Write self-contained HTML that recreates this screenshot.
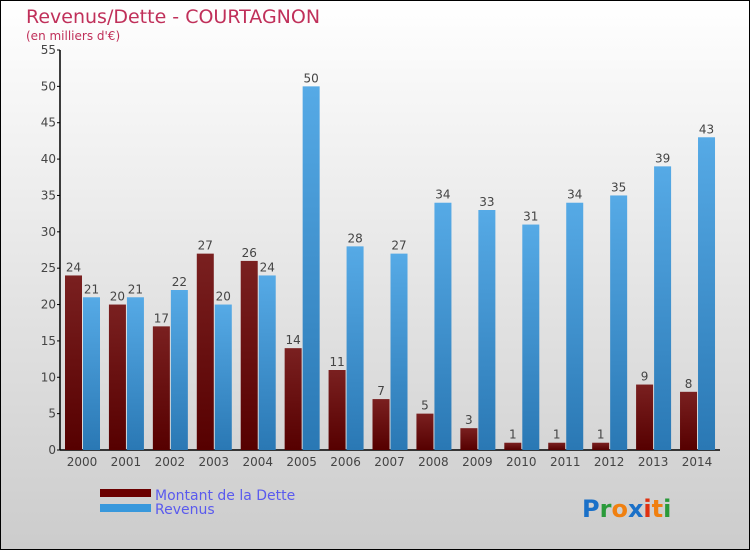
<!DOCTYPE html>
<html><head><meta charset="utf-8"><style>
body{margin:0}
svg{display:block;font-family:"DejaVu Sans","Liberation Sans",sans-serif}
</style></head><body>
<svg id="chart" width="750" height="550" viewBox="0 0 750 550">
<defs>
<linearGradient id="bg" x1="0" y1="0" x2="0" y2="1"><stop offset="0" stop-color="#ffffff"/><stop offset="1" stop-color="#cccccc"/></linearGradient>
<linearGradient id="gd" x1="0" y1="0" x2="0" y2="1"><stop offset="0" stop-color="#7a2020"/><stop offset="1" stop-color="#560000"/></linearGradient>
<linearGradient id="gr" x1="0" y1="0" x2="0" y2="1"><stop offset="0" stop-color="#56aae6"/><stop offset="1" stop-color="#2a78b4"/></linearGradient>
</defs>
<rect x="0.5" y="0.5" width="749" height="549" fill="url(#bg)" stroke="#000"/>
<text x="26" y="23" font-size="19" fill="#c0305a">Revenus/Dette - COURTAGNON</text>
<text x="26" y="40" font-size="12" fill="#c0305a">(en milliers d'€)</text>
<g id="axes"></g>
<g id="bars"></g>
<g>
<rect x="100" y="489" width="51" height="8" fill="#6b0000"/>
<text x="155" y="500" font-size="14" fill="#5a5aee">Montant de la Dette</text>
<rect x="100" y="504" width="51" height="8" fill="#3898dc"/>
<text x="155" y="514" font-size="14" fill="#5a5aee">Revenus</text>
</g>
<text x="582" y="517" font-size="24" font-weight="bold"><tspan fill="#1a70c8">P</tspan><tspan fill="#2a9a3a">r</tspan><tspan fill="#f08010">o</tspan><tspan fill="#1a70c8">x</tspan><tspan fill="#e03010">i</tspan><tspan fill="#f08010">t</tspan><tspan fill="#2a9a3a">i</tspan></text>
</svg>
<script>
const years=["2000","2001","2002","2003","2004","2005","2006","2007","2008","2009","2010","2011","2012","2013","2014"];
const dette=[24,20,17,27,26,14,11,7,5,3,1,1,1,9,8];
const revenus=[21,21,22,20,24,50,28,27,34,33,31,34,35,39,43];
const yTicks=[0,5,10,15,20,25,30,35,40,45,50,55];
const NS="http://www.w3.org/2000/svg";
const y=v=>450-v*400/55;
const xc=i=>82+i*43.93;
function mk(tag,attrs,parent,txt){const e=document.createElementNS(NS,tag);for(const k in attrs)e.setAttribute(k,attrs[k]);if(txt!==undefined)e.textContent=txt;parent.appendChild(e);return e;}
const ax=document.getElementById('axes'),bars=document.getElementById('bars');
let l=mk('line',{x1:60,y1:50,x2:60,y2:450,stroke:'#000','stroke-width':1.5},ax);


l=mk('line',{x1:60,y1:450,x2:720,y2:450,stroke:'#000','stroke-width':1.5},ax);


yTicks.forEach(v=>{
 const t=mk('line',{x1:57,y1:y(v),x2:60,y2:y(v),stroke:'#000'},ax);
 
 
 const tx=mk('text',{x:56,y:y(v)+4,'font-size':12,fill:'#444','text-anchor':'end'},ax,String(v));
 
 
});
years.forEach((yr,i)=>{
 const c=xc(i);
 const tx=mk('text',{x:c,y:466,'font-size':12,fill:'#444','text-anchor':'middle'},ax,yr);
 
 
 const d=mk('rect',{x:c-17,y:y(dette[i]),width:17,height:450-y(dette[i]),fill:'url(#gd)'},bars);
 
 
 const r=mk('rect',{x:c+1,y:y(revenus[i]),width:17,height:450-y(revenus[i]),fill:'url(#gr)'},bars);
 
 
 const dl=mk('text',{x:c-8.5,y:y(dette[i])-4,'font-size':12,fill:'#444','text-anchor':'middle'},bars,String(dette[i]));
 
 
 const rl=mk('text',{x:c+9.5,y:y(revenus[i])-4,'font-size':12,fill:'#444','text-anchor':'middle'},bars,String(revenus[i]));
 
 
});
</script>
</body></html>
